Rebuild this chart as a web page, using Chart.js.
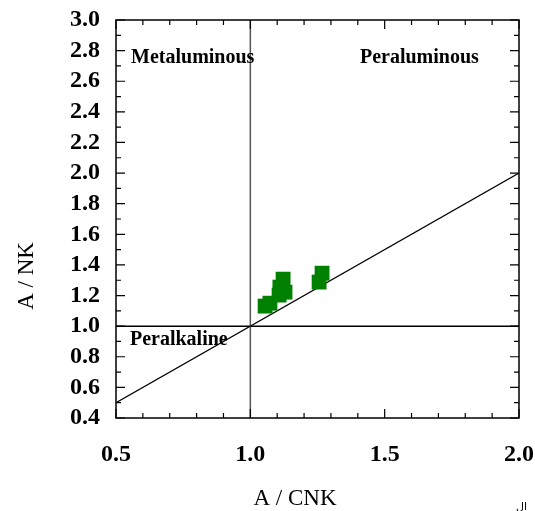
<!DOCTYPE html>
<html>
<head>
<meta charset="utf-8">
<script src="https://cdn.jsdelivr.net/npm/chart.js@4.4.1/dist/chart.umd.min.js"></script>
<style>
html,body{margin:0;padding:0;background:#fff;}
#wrap{width:535px;height:511px;}
</style>
</head>
<body>
<div id="wrap"><canvas id="c" width="535" height="511"></canvas></div>
<script>
// ---- data ----
const sampleACNK = [1.055, 1.073, 1.107, 1.110, 1.122, 1.129, 1.256, 1.267];
const sampleANK  = [1.131, 1.150, 1.203, 1.255, 1.307, 1.222, 1.288, 1.346];
const diagX = [0.5, 2.0];
const diagY = [0.5, 2.0];
const vertX = [1.0, 1.0];
const vertY = [0.4, 3.0];
const horzX = [0.5, 2.0];
const horzY = [1.0, 1.0];
const fieldLabels = ['Metaluminous', 'Peraluminous', 'Peralkaline'];
const fieldLabelX = [0.556, 1.408, 0.552];
const fieldLabelY = [2.72, 2.72, 0.876];
const xTitle = 'A / CNK';
const yTitle = 'A / NK';
const noteText = 'ال';

const toPts = (xs, ys) => xs.map((x, i) => ({x: x, y: ys[i]}));
const SERIF = "'Liberation Serif','Times New Roman',serif";

const framePlugin = {
  id: 'frame',
  afterDatasetsDraw(chart) {
    const ctx = chart.ctx, a = chart.chartArea;
    const xs = chart.scales.x, ys = chart.scales.y;
    ctx.save();
    ctx.strokeStyle = '#000';
    ctx.lineWidth = 1.5;
    ctx.strokeRect(a.left, a.top, a.right - a.left, a.bottom - a.top);
    ctx.lineWidth = 1.2;
    ctx.beginPath();
    for (let i = 0; i <= 15; i++) {
      const v = 0.5 + i * 0.1;
      const px = xs.getPixelForValue(v);
      const major = (i % 5 === 0);
      const L = major ? 9 : 5;
      ctx.moveTo(px, a.bottom); ctx.lineTo(px, a.bottom - L);
      ctx.moveTo(px, a.top); ctx.lineTo(px, a.top + L);
    }
    for (let i = 0; i <= 26; i++) {
      const v = 0.4 + i * 0.1;
      const py = ys.getPixelForValue(v);
      const major = (i % 2 === 0);
      const L = major ? 9 : 5;
      ctx.moveTo(a.left, py); ctx.lineTo(a.left + L, py);
      ctx.moveTo(a.right, py); ctx.lineTo(a.right - L, py);
    }
    ctx.stroke();
    // field labels
    ctx.fillStyle = '#000';
    ctx.font = 'bold 20px ' + SERIF;
    ctx.textAlign = 'left';
    ctx.textBaseline = 'alphabetic';
    fieldLabels.forEach((t, i) => {
      ctx.fillText(t, xs.getPixelForValue(fieldLabelX[i]), ys.getPixelForValue(fieldLabelY[i]));
    });
    // axis titles
    ctx.font = '23px ' + SERIF;
    ctx.textAlign = 'center';
    ctx.textBaseline = 'middle';
    ctx.fillText(xTitle, 295, 499);
    ctx.save();
    ctx.translate(27, 276);
    ctx.rotate(-Math.PI / 2);
    ctx.fillText(yTitle, 0, 0);
    ctx.restore();
    ctx.font = '11px "DejaVu Sans", sans-serif';
    ctx.textAlign = 'right';
    ctx.textBaseline = 'alphabetic';
    ctx.fillText(noteText, 527, 510);
    ctx.restore();
  }
};

new Chart(document.getElementById('c'), {
  type: 'scatter',
  data: {
    datasets: [
      {
        label: 'Samples',
        data: toPts(sampleACNK, sampleANK),
        pointStyle: 'rect',
        pointRadius: 10.5,
        pointHoverRadius: 10.5,
        backgroundColor: '#008000',
        borderColor: '#008000',
        borderWidth: 0,
        order: 0
      },
      {
        label: 'A/NK = A/CNK',
        data: toPts(diagX, diagY),
        showLine: true,
        pointRadius: 0,
        borderColor: '#000',
        borderWidth: 1.3,
        order: 1
      },
      {
        label: 'A/CNK = 1',
        data: toPts(vertX, vertY),
        showLine: true,
        pointRadius: 0,
        borderColor: '#555',
        borderWidth: 1.5,
        order: 1
      },
      {
        label: 'A/NK = 1',
        data: toPts(horzX, horzY),
        showLine: true,
        pointRadius: 0,
        borderColor: '#000',
        borderWidth: 1.5,
        order: 1
      }
    ]
  },
  options: {
    responsive: false,
    animation: false,
    layout: { padding: { top: 20, right: 16, left: 0, bottom: 0 } },
    plugins: { legend: { display: false }, tooltip: { enabled: false } },
    scales: {
      x: {
        type: 'linear',
        min: 0.5, max: 2.0,
        grid: { display: false },
        border: { display: false },
        ticks: {
          stepSize: 0.5,
          padding: 14,
          autoSkip: false,
          maxRotation: 0,
          color: '#000',
          font: { family: SERIF, size: 24, weight: 'bold' },
          callback: v => Number(v).toFixed(1)
        },
        afterFit: s => { s.height = 93; s.paddingLeft = 0; s.paddingRight = 0; }
      },
      y: {
        type: 'linear',
        min: 0.4, max: 3.0,
        grid: { display: false },
        border: { display: false },
        ticks: {
          stepSize: 0.2,
          padding: 8,
          autoSkip: false,
          color: '#000',
          font: { family: SERIF, size: 24, weight: 'bold' },
          callback: v => Number(v).toFixed(1)
        },
        afterFit: s => { s.width = 116; s.paddingTop = 0; s.paddingBottom = 0; }
      }
    }
  },
  plugins: [framePlugin]
});
</script>
</body>
</html>
